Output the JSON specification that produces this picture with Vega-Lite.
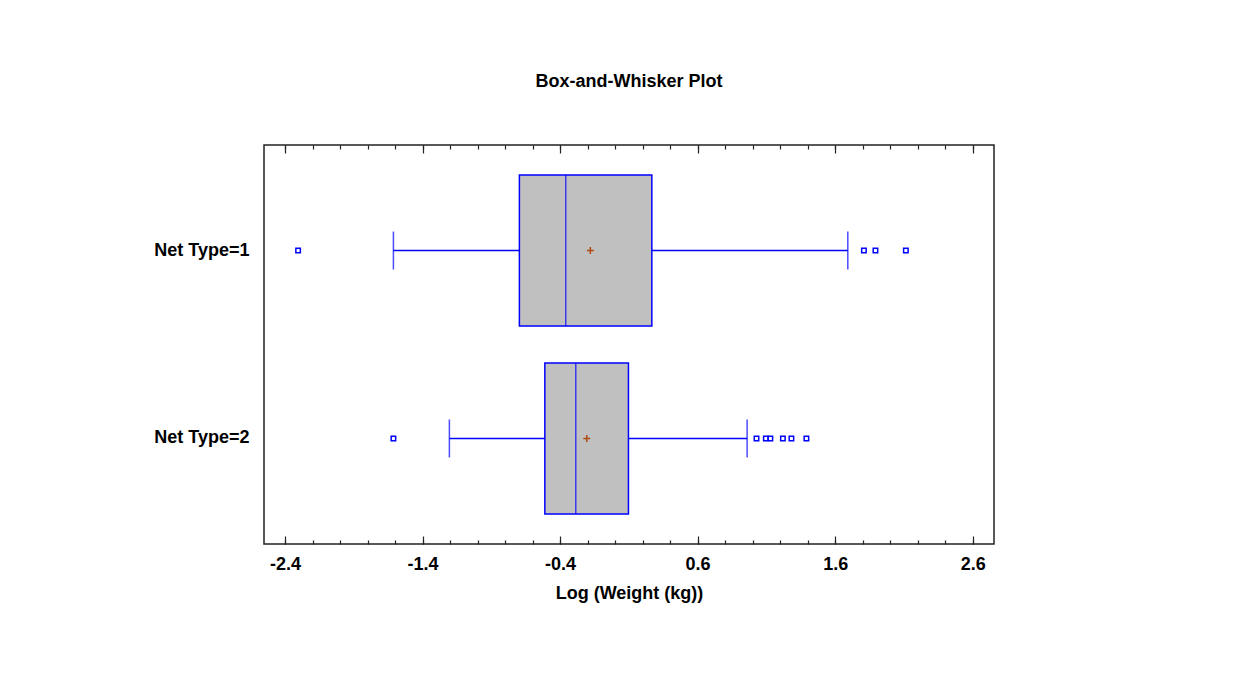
{
  "$schema": "https://vega.github.io/schema/vega-lite/v6.json",
  "autosize": "none",
  "width": 730,
  "height": 399,
  "padding": {"left": 264, "top": 145, "right": 249, "bottom": 134},
  "background": "white",
  "title": {"text": "Box-and-Whisker Plot", "font": "Liberation Sans", "fontSize": 18, "fontWeight": "bold", "color": "black", "anchor": "middle", "baseline": "alphabetic", "offset": 39},
  "datasets": {
    "boxes": [
      {"group": "Net Type=1", "lo": -1.612, "q1": -0.696, "median": -0.359, "q3": 0.267, "hi": 1.692, "mean": -0.180},
      {"group": "Net Type=2", "lo": -1.205, "q1": -0.511, "median": -0.286, "q3": 0.097, "hi": 0.960, "mean": -0.206}
    ],
    "outliers": [
      {"group": "Net Type=1", "value": -2.305},
      {"group": "Net Type=1", "value": 1.809},
      {"group": "Net Type=1", "value": 1.893},
      {"group": "Net Type=1", "value": 2.114},
      {"group": "Net Type=2", "value": -1.612},
      {"group": "Net Type=2", "value": 1.028},
      {"group": "Net Type=2", "value": 1.096},
      {"group": "Net Type=2", "value": 1.129},
      {"group": "Net Type=2", "value": 1.220},
      {"group": "Net Type=2", "value": 1.282},
      {"group": "Net Type=2", "value": 1.391}
    ]
  },
  "resolve": {"axis": {"x": "independent"}},
  "layer": [
    {
      "data": {"name": "boxes"},
      "mark": {"type": "rule", "color": "#0000ff", "strokeWidth": 1.5},
      "encoding": {
        "y": {"field": "group", "type": "nominal", "title": null, "scale": {"paddingInner": 0.197, "paddingOuter": 0.16}},
        "x": {"field": "lo", "type": "quantitative", "scale": {"domain": [-2.553, 2.755], "nice": false, "zero": false},
          "axis": {"orient": "bottom", "values": [-2.4,-2.2,-2.0,-1.8,-1.6,-1.4,-1.2,-1.0,-0.8,-0.6,-0.4,-0.2,0,0.2,0.4,0.6,0.8,1.0,1.2,1.4,1.6,1.8,2.0,2.2,2.4,2.6], "tickSize": -4, "labels": false, "domain": false, "grid": false, "title": null, "tickColor": "#222", "tickWidth": 1.2}},
        "x2": {"field": "hi"}
      }
    },
    {
      "data": {"name": "boxes"},
      "mark": {"type": "tick", "color": "#0000ff", "size": 38, "thickness": 1.5, "orient": "vertical"},
      "encoding": {
        "y": {"field": "group", "type": "nominal", "title": null},
        "x": {"field": "lo", "type": "quantitative",
          "axis": {"orient": "top", "values": [-2.4,-1.4,-0.4,0.6,1.6,2.6], "tickSize": -8, "labels": false, "domain": false, "grid": false, "title": null, "tickColor": "#222", "tickWidth": 1.2}}
      }
    },
    {
      "data": {"name": "boxes"},
      "mark": {"type": "tick", "color": "#0000ff", "size": 38, "thickness": 1.5, "orient": "vertical"},
      "encoding": {
        "y": {"field": "group", "type": "nominal", "title": null},
        "x": {"field": "hi", "type": "quantitative",
          "axis": {"orient": "top", "values": [-2.4,-2.2,-2.0,-1.8,-1.6,-1.4,-1.2,-1.0,-0.8,-0.6,-0.4,-0.2,0,0.2,0.4,0.6,0.8,1.0,1.2,1.4,1.6,1.8,2.0,2.2,2.4,2.6], "tickSize": -4, "labels": false, "domain": false, "grid": false, "title": null, "tickColor": "#222", "tickWidth": 1.2}}
      }
    },
    {
      "data": {"name": "boxes"},
      "mark": {"type": "bar", "fill": "#c0c0c0", "stroke": "#0000ff", "strokeWidth": 1.5},
      "encoding": {
        "y": {"field": "group", "type": "nominal", "title": null},
        "x": {"field": "q1", "type": "quantitative",
          "axis": {"orient": "bottom", "values": [-2.4,-1.4,-0.4,0.6,1.6,2.6], "format": ".1f", "labelExpr": "replace(datum.label, '−', '-')", "tickSize": -8, "labelPadding": 19, "domain": false, "grid": false, "title": "Log (Weight (kg))", "titlePadding": 11, "tickColor": "#222", "tickWidth": 1.2}},
        "x2": {"field": "q3"}
      }
    },
    {
      "data": {"name": "boxes"},
      "mark": {"type": "tick", "color": "#0000ff", "size": 151, "thickness": 1.5, "orient": "vertical"},
      "encoding": {
        "y": {"field": "group", "type": "nominal", "title": null},
        "x": {"field": "median", "type": "quantitative", "axis": null}
      }
    },
    {
      "data": {"name": "boxes"},
      "mark": {"type": "point", "shape": "M-1,0L1,0M0,-1L0,1", "size": 49, "filled": false, "stroke": "#b04a10", "strokeWidth": 1.5, "opacity": 1},
      "encoding": {
        "y": {"field": "group", "type": "nominal", "title": null},
        "x": {"field": "mean", "type": "quantitative", "axis": null}
      }
    },
    {
      "data": {"name": "outliers"},
      "mark": {"type": "point", "shape": "square", "size": 20, "filled": false, "stroke": "#0000ff", "strokeWidth": 1.5, "opacity": 1},
      "encoding": {
        "y": {"field": "group", "type": "nominal", "title": null},
        "x": {"field": "value", "type": "quantitative", "axis": null}
      }
    }
  ],
  "config": {
    "view": {"stroke": "#222", "strokeWidth": 1.5},
    "font": "Liberation Sans",
    "axis": {"labelFont": "Liberation Sans", "labelFontSize": 18, "labelFontWeight": "bold", "labelColor": "black", "titleFont": "Liberation Sans", "titleFontSize": 18, "titleFontWeight": "bold", "titleColor": "black"},
    "axisY": {"domain": false, "ticks": false, "labelPadding": 15, "grid": false}
  }
}
